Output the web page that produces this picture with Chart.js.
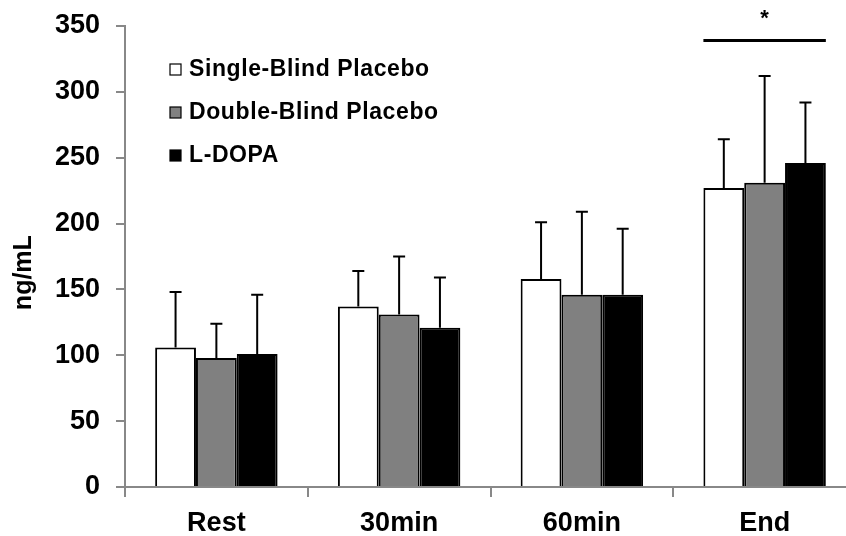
<!DOCTYPE html>
<html>
<head>
<meta charset="utf-8">
<script src="https://cdn.jsdelivr.net/npm/chart.js@4"></script>
<style>
  html, body { margin: 0; padding: 0; background: #fff; overflow: hidden; }
  #wrap { width: 856px; height: 536px; }
</style>
</head>
<body>
<div id="wrap"><canvas id="myChart" width="856" height="536"></canvas></div>
<script>
const ctx = document.getElementById('myChart');

const categories = ['Rest', '30min', '60min', 'End'];
const seriesNames = ['Single-Blind Placebo', 'Double-Blind Placebo', 'L-DOPA'];
const seriesColors = ['#ffffff', '#808080', '#000000'];

// means
const singleBlind = [106, 137, 158, 227];
const doubleBlind = [98, 131, 146, 231];
const ldopa = [101, 121, 146, 246];
// SD (upper error only)
const singleBlindErr = [42, 27, 43, 37];
const doubleBlindErr = [26, 44, 63, 81];
const ldopaErr = [45, 38, 50, 46];

const yTicks = [0, 50, 100, 150, 200, 250, 300, 350];
const yTitle = 'ng/mL';
const sigLevel = 339;   // height of significance bar
const sigCategory = 3;  // 'End'

const FONT = "'Liberation Sans', Arial, sans-serif";

const errorBars = {
  id: 'errorBars',
  afterDatasetsDraw(chart) {
    const c = chart.ctx;
    const y = chart.scales.y;
    c.save();
    c.strokeStyle = '#000';
    c.lineWidth = 2;
    chart.data.datasets.forEach((ds, i) => {
      const meta = chart.getDatasetMeta(i);
      meta.data.forEach((bar, j) => {
        const top = y.getPixelForValue(ds.data[j] + ds.errors[j]);
        c.beginPath();
        c.moveTo(bar.x, bar.y);
        c.lineTo(bar.x, top);
        c.moveTo(bar.x - 6, top);
        c.lineTo(bar.x + 6, top);
        c.stroke();
      });
    });
    // significance line over End
    const first = chart.getDatasetMeta(0).data[sigCategory];
    const last = chart.getDatasetMeta(2).data[sigCategory];
    const ly = y.getPixelForValue(sigLevel);
    c.lineWidth = 3;
    c.beginPath();
    c.moveTo(first.x - first.width / 2, ly);
    c.lineTo(last.x + last.width / 2, ly);
    c.stroke();
    c.fillStyle = '#000';
    c.font = 'bold 22px ' + FONT;
    c.textAlign = 'center';
    c.textBaseline = 'middle';
    c.fillText('*', (first.x - first.width / 2 + last.x + last.width / 2) / 2, ly - 22);
    c.restore();
  }
};

// legend inside the plot + y title (sits a bit below the axis middle in the original)
const innerLegend = {
  id: 'innerLegend',
  afterDraw(chart) {
    const c = chart.ctx;
    const area = chart.chartArea;
    c.save();
    c.font = 'bold 23px ' + FONT;
    c.letterSpacing = '0.6px';
    c.textBaseline = 'middle';
    c.textAlign = 'left';
    chart.data.datasets.forEach((ds, i) => {
      const cy = area.top + 44 + i * 43;
      const bx = area.left + 45;
      c.fillStyle = ds.backgroundColor;
      c.fillRect(bx, cy - 6, 11, 11);
      c.strokeStyle = '#000';
      c.lineWidth = 1.2;
      c.strokeRect(bx, cy - 6, 11, 11);
      c.fillStyle = '#000';
      c.fillText(ds.label, bx + 19, cy);
    });
    c.restore();

    c.save();
    c.font = 'bold 25px ' + FONT;
    c.fillStyle = '#000';
    c.textAlign = 'center';
    c.textBaseline = 'middle';
    c.translate(24, area.top + (area.bottom - area.top) * 0.535);
    c.rotate(-Math.PI / 2);
    c.fillText(yTitle, 0, 0);
    c.restore();
  }
};

const myChart = new Chart(ctx, {
  type: 'bar',
  data: {
    labels: categories,
    datasets: [
      { label: seriesNames[0], data: singleBlind, errors: singleBlindErr, backgroundColor: seriesColors[0] },
      { label: seriesNames[1], data: doubleBlind, errors: doubleBlindErr, backgroundColor: seriesColors[1] },
      { label: seriesNames[2], data: ldopa, errors: ldopaErr, backgroundColor: seriesColors[2] }
    ].map(d => Object.assign(d, {
      borderColor: '#000',
      borderWidth: 2,
      borderSkipped: 'bottom',
      barPercentage: 1.0,
      categoryPercentage: 0.67
    }))
  },
  options: {
    responsive: false,
    animation: false,
    layout: { padding: { top: 26, right: 0, left: 0, bottom: 0 } },
    plugins: {
      legend: { display: false },
      tooltip: { enabled: false }
    },
    scales: {
      x: {
        afterFit: (s) => { s.height = 49; s.paddingLeft = 0; s.paddingRight = 0; },
        grid: {
          offset: true,
          drawOnChartArea: false,
          color: '#888',
          tickLength: 10,
          lineWidth: 2
        },
        border: { color: '#888', width: 2 },
        ticks: {
          color: '#000',
          padding: 10,
          font: { size: 27, weight: 'bold', family: FONT }
        }
      },
      y: {
        min: 0,
        max: 350,
        afterFit: (s) => { s.width = 125; s.paddingTop = 0; s.paddingBottom = 0; },
        afterBuildTicks: (s) => { s.ticks = yTicks.map(v => ({ value: v })); },
        grid: {
          drawOnChartArea: false,
          color: '#888',
          tickLength: 9,
          lineWidth: 2
        },
        border: { color: '#888', width: 2 },
        ticks: {
          color: '#000',
          padding: 16,
          font: { size: 27, weight: 'bold', family: FONT }
        }
      }
    }
  },
  plugins: [errorBars, innerLegend]
});
</script>
</body>
</html>
